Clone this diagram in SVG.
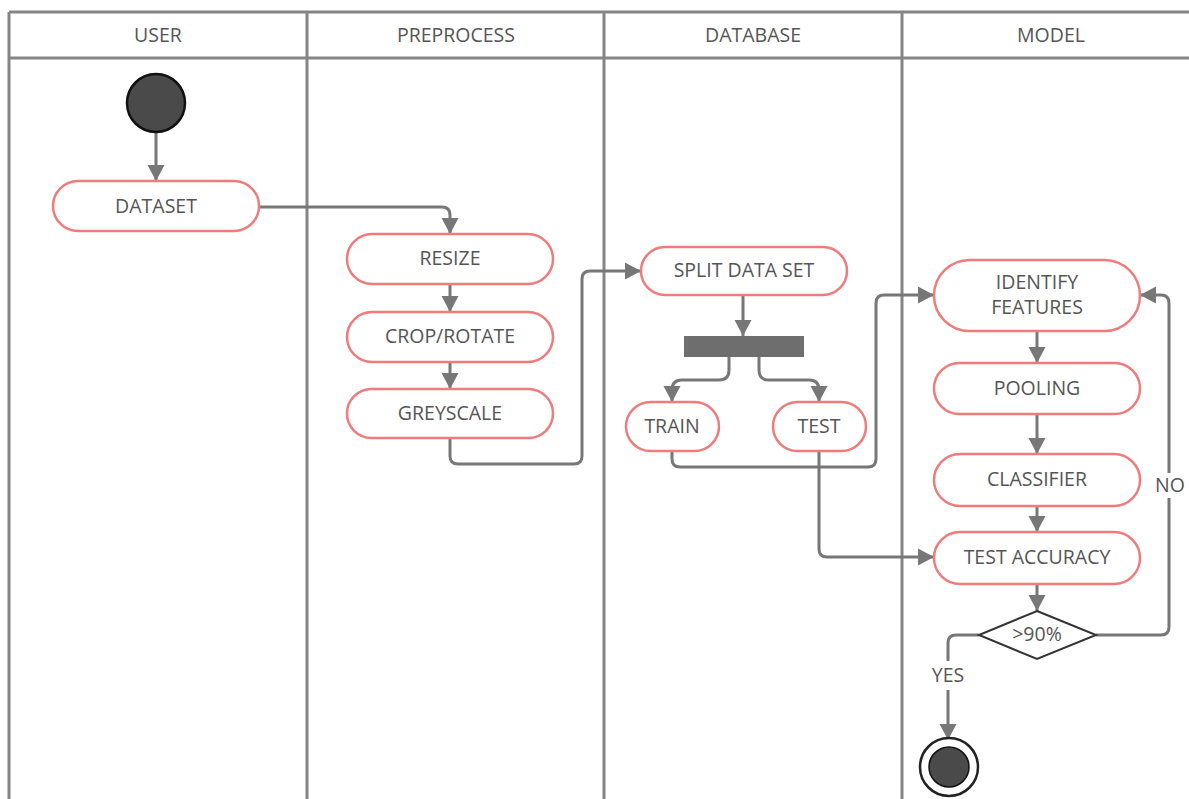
<svg xmlns="http://www.w3.org/2000/svg" width="1189" height="799" viewBox="0 0 1189 799">
<defs>
<style>
.lane{stroke:#858585;stroke-width:3;fill:none}
.hdr{font-family:"Open Sans","Liberation Sans",sans-serif;font-size:19.5px;fill:#555;text-anchor:middle}
.node{fill:#fff;stroke:#f07b7b;stroke-width:2.5}
.lbl{font-family:"Open Sans","Liberation Sans",sans-serif;font-size:19.5px;fill:#555;text-anchor:middle}
.conn{stroke:#777;stroke-width:3;fill:none}
</style>
<marker id="ah" markerUnits="userSpaceOnUse" markerWidth="20" markerHeight="20" viewBox="0 0 20 20" refX="18" refY="10" orient="auto">
<path d="M2,1.5 L18,10 L2,18.5 Z" fill="#777"/>
</marker>
</defs>
<rect width="1189" height="799" fill="#fff"/>
<g id="lanes">
<line class="lane" x1="9" y1="12" x2="1189" y2="12"/>
<line class="lane" x1="9" y1="58" x2="1189" y2="58"/>
<line class="lane" x1="9" y1="12" x2="9" y2="799"/>
<line class="lane" x1="307" y1="12" x2="307" y2="799"/>
<line class="lane" x1="604" y1="12" x2="604" y2="799"/>
<line class="lane" x1="902" y1="12" x2="902" y2="799"/>
<text class="hdr" x="158" y="42">USER</text>
<text class="hdr" x="456" y="42">PREPROCESS</text>
<text class="hdr" x="753" y="42">DATABASE</text>
<text class="hdr" x="1051" y="42">MODEL</text>
</g>
<g id="connectors">
<path class="conn" d="M156,132 L156,181" marker-end="url(#ah)"/>
<path class="conn" d="M259,207 L442,207 Q450,207 450,215 L450,234" marker-end="url(#ah)"/>
<path class="conn" d="M450,284 L450,312" marker-end="url(#ah)"/>
<path class="conn" d="M450,362 L450,389" marker-end="url(#ah)"/>
<path class="conn" d="M450,438 L450,456 Q450,464 458,464 L574,464 Q582,464 582,456 L582,279 Q582,271 590,271 L641,271" marker-end="url(#ah)"/>
<path class="conn" d="M743,295 L743,336" marker-end="url(#ah)"/>
<path class="conn" d="M729,357 L729,370 Q729,380 719,380 L682,380 Q672,380 672,390 L672,402" marker-end="url(#ah)"/>
<path class="conn" d="M759,357 L759,370 Q759,380 769,380 L809,380 Q819,380 819,390 L819,402" marker-end="url(#ah)"/>
<path class="conn" d="M672,451 L672,459 Q672,467 680,467 L868,467 Q876,467 876,459 L876,303 Q876,295 884,295 L934,295" marker-end="url(#ah)"/>
<path class="conn" d="M819,451 L819,549 Q819,557 827,557 L934,557" marker-end="url(#ah)"/>
<path class="conn" d="M1037,331 L1037,363" marker-end="url(#ah)"/>
<path class="conn" d="M1037,414 L1037,454" marker-end="url(#ah)"/>
<path class="conn" d="M1037,506 L1037,532" marker-end="url(#ah)"/>
<path class="conn" d="M1037,584 L1037,611" marker-end="url(#ah)"/>
<path class="conn" d="M1096,635 L1161,635 Q1169,635 1169,627 L1169,498"/>
<path class="conn" d="M1169,473 L1169,303 Q1169,295 1161,295 L1140,295" marker-end="url(#ah)"/>
<text class="lbl" x="1170" y="492">NO</text>
<path class="conn" d="M979,635 L956,635 Q948,635 948,643 L948,661"/>
<path class="conn" d="M948,690 L948,740" marker-end="url(#ah)"/>
<text class="lbl" x="948" y="682">YES</text>
</g>
<g id="start"><circle cx="156" cy="103" r="29" fill="#4a4a4a" stroke="#111" stroke-width="2.5"/></g>
<g id="dataset"><rect class="node" x="53" y="181" width="206" height="50" rx="25"/><text class="lbl" x="156" y="213">DATASET</text></g>
<g id="resize"><rect class="node" x="347" y="234" width="206" height="50" rx="25"/><text class="lbl" x="450" y="265">RESIZE</text></g>
<g id="crop"><rect class="node" x="347" y="312" width="206" height="50" rx="25"/><text class="lbl" x="450" y="343">CROP/ROTATE</text></g>
<g id="greyscale"><rect class="node" x="347" y="389" width="206" height="49" rx="24.5"/><text class="lbl" x="450" y="420">GREYSCALE</text></g>
<g id="split"><rect class="node" x="641" y="247" width="206" height="48" rx="24"/><text class="lbl" x="744" y="277">SPLIT DATA SET</text></g>
<g id="fork"><rect x="684" y="336" width="120" height="21" fill="#6e6e6e"/></g>
<g id="train"><rect class="node" x="626" y="402" width="93" height="49" rx="24.5"/><text class="lbl" x="672" y="433">TRAIN</text></g>
<g id="test"><rect class="node" x="773" y="402" width="93" height="49" rx="24.5"/><text class="lbl" x="819" y="433">TEST</text></g>
<g id="identify"><rect class="node" x="934" y="260" width="206" height="71" rx="35.5"/><text class="lbl" x="1037" y="289">IDENTIFY</text><text class="lbl" x="1037" y="314">FEATURES</text></g>
<g id="pooling"><rect class="node" x="934" y="363" width="206" height="51" rx="25.5"/><text class="lbl" x="1037" y="395">POOLING</text></g>
<g id="classifier"><rect class="node" x="934" y="454" width="206" height="52" rx="26"/><text class="lbl" x="1037" y="486">CLASSIFIER</text></g>
<g id="testacc"><rect class="node" x="934" y="532" width="206" height="52" rx="26"/><text class="lbl" x="1037" y="564">TEST ACCURACY</text></g>
<g id="decision"><polygon points="1037,611 1096,635 1037,659 979,635" fill="#fff" stroke="#333" stroke-width="2"/><text class="lbl" x="1037" y="641">&gt;90%</text></g>
<g id="end"><circle cx="949" cy="767" r="29" fill="#fff" stroke="#222" stroke-width="2.5"/><circle cx="949" cy="767" r="20" fill="#4a4a4a" stroke="#111" stroke-width="1.5"/></g>
</svg>
